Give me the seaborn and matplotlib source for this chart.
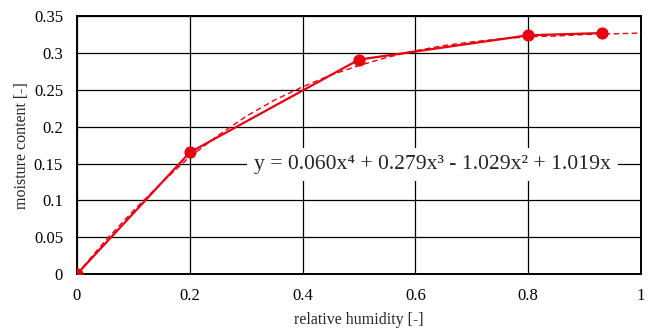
import numpy as np
import pandas as pd
import matplotlib
matplotlib.use("Agg")
import matplotlib.pyplot as plt
import seaborn as sns

# Data
rh = [0.0, 0.2, 0.5, 0.8, 0.93]
moisture = [0.0, 0.165, 0.291, 0.324, 0.327]

# Dashed polynomial trendline
trend_x = [0.0, 0.05, 0.1, 0.15, 0.2, 0.25, 0.3, 0.35, 0.4, 0.45, 0.5,
           0.55, 0.6, 0.65, 0.7, 0.75, 0.8, 0.85, 0.9, 0.95, 1.0]
trend_y = [0.0, 0.045, 0.086, 0.124, 0.159, 0.188, 0.214, 0.236, 0.254,
           0.270, 0.283, 0.294, 0.303, 0.310, 0.315, 0.319, 0.322, 0.323,
           0.325, 0.326, 0.327]
trend_label = "y = 0.060x⁴ + 0.279x³ - 1.029x² + 1.019x"

x_ticks = [0, 0.2, 0.4, 0.6, 0.8, 1]
x_tick_labels = ["0", "0.2", "0.4", "0.6", "0.8", "1"]
y_ticks = [0, 0.05, 0.1, 0.15, 0.2, 0.25, 0.3, 0.35]
y_tick_labels = ["0", "0.05", "0.1", "0.15", "0.2", "0.25", "0.3", "0.35"]

sns.set_style("white")
plt.rcParams["font.family"] = ["Liberation Serif", "DejaVu Serif"]

red = "#E60012"

fig, ax = plt.subplots(figsize=(6.49, 3.29), dpi=100)
fig.subplots_adjust(left=0.1186, right=0.9877, top=0.951, bottom=0.167)

df = pd.DataFrame({"rh": rh, "mc": moisture})
df_t = pd.DataFrame({"rh": trend_x, "mc": trend_y})

sns.lineplot(data=df_t, x="rh", y="mc", ax=ax, color=red, linewidth=1.0,
             linestyle=(0, (4, 2.5)), zorder=3)
sns.lineplot(data=df, x="rh", y="mc", ax=ax, color=red, linewidth=1.6,
             marker="o", markersize=8, markeredgecolor=red, zorder=4)

ax.set_xlim(0, 1)
ax.set_ylim(0, 0.35)
ax.set_xticks(x_ticks)
ax.set_xticklabels(x_tick_labels)
ax.set_yticks(y_ticks)
ax.set_yticklabels(y_tick_labels)
ax.tick_params(axis="y", labelsize=12, length=0, pad=10, colors="black")
ax.tick_params(axis="x", labelsize=12, length=0, pad=10, colors="black")
ax.grid(True, color="black", linewidth=0.9)
ax.set_axisbelow(True)
for s in ax.spines.values():
    s.set_color("black")
    s.set_linewidth(1.4)

ax.set_xlabel("relative humidity [-]", fontsize=11.5, labelpad=6)
ax.set_ylabel("moisture content [-]", fontsize=11.5, labelpad=3)

ax.text(0.63, 0.149, trend_label, fontsize=15.6, ha="center", va="center",
        zorder=5,
        bbox=dict(facecolor="white", edgecolor="none", pad=5))

fig.savefig("out.png", dpi=100)
